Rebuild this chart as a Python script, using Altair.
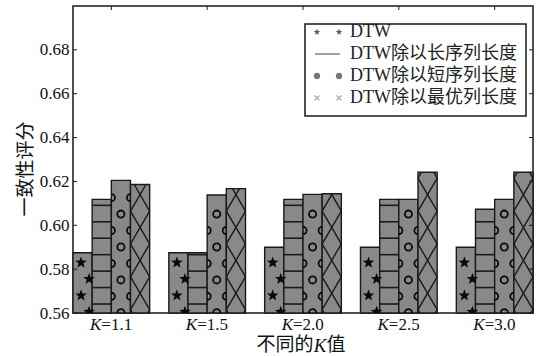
import math
import altair as alt
import pandas as pd

# ---- data -------------------------------------------------------------
k_values = ["1.1", "1.5", "2.0", "2.5", "3.0"]
series = ["DTW", "DTW除以长序列长度", "DTW除以短序列长度", "DTW除以最优列长度"]
dtw = [0.5875, 0.5875, 0.5900, 0.5900, 0.5900]
dtw_long = [0.6118, 0.5875, 0.6118, 0.6118, 0.6073]
dtw_short = [0.6205, 0.6138, 0.6141, 0.6118, 0.6118]
dtw_best = [0.6186, 0.6167, 0.6144, 0.6242, 0.6242]
y_ticks = [0.56, 0.58, 0.60, 0.62, 0.64, 0.66, 0.68]
tick_prefix = "K"
y_title = "一致性评分"
x_title_parts = ["不同的", "K", "值"]

# ---- layout / style ---------------------------------------------------
W, H = 460, 307
Y_MIN, Y_MAX = 0.56, 0.70
SLOTS = 5                      # four bars plus one empty slot per group
X_MAX = SLOTS * len(k_values) - 1
HATCH = 0.0075                 # hatch spacing in value units
FONT = "Liberation Serif, Noto Sans CJK SC"
GREY = "#898989"
INK = "#1a1a1a"

xs = alt.Scale(domain=[0, X_MAX], nice=False, zero=False)
ys = alt.Scale(domain=[Y_MIN, Y_MAX], nice=False, zero=False)
Y_AXIS = alt.Axis(values=y_ticks, format=".2f", labelFont=FONT, labelFontSize=17,
                  labelColor="#111", ticks=False, domain=False, grid=False,
                  title=None, labelPadding=4, labelFlush=False, labelOverlap=False)


def yq(field):
    return alt.Y(field, scale=ys, axis=Y_AXIS)


def xq(field):
    return alt.X(field, scale=xs, axis=None)


def star_path(inner=0.42):
    pts = []
    for i in range(10):
        r = 1.0 if i % 2 == 0 else inner
        a = math.radians(-90 + 36 * i)
        pts.append(f"{r * math.cos(a):.3f},{r * math.sin(a):.3f}")
    return "M" + "L".join(pts) + "Z"


STAR = star_path()
RIGHT_HALF = "M0,-1A1,1,0,0,1,0,1"   # sits on a bar's left edge
LEFT_HALF = "M0,-1A1,1,0,0,0,0,1"    # sits on a bar's right edge
X_GLYPH = "M-1,-1L1,1M1,-1L-1,1"


def clip_segment(xa, ya, xb, yb, lo, hi):
    dy = yb - ya
    t_a, t_b = (lo - ya) / dy, (hi - ya) / dy
    t0 = max(0.0, min(t_a, t_b))
    t1 = min(1.0, max(t_a, t_b))
    if t1 <= t0:
        return None
    return (xa + t0 * (xb - xa), ya + t0 * dy, xa + t1 * (xb - xa), ya + t1 * dy)


# ---- bars and hatch glyphs ---------------------------------------------
values = [dtw, dtw_long, dtw_short, dtw_best]
bars, stars, hlines, circles, halves, diags = [], [], [], [], [], []
for i, k in enumerate(k_values):
    for j, name in enumerate(series):
        x0 = i * SLOTS + j
        x1 = x0 + 1
        v = values[j][i]
        bars.append({"name": name, "k": k, "x0": x0, "x1": x1, "v": v})
        if j == 0:
            n = 0
            while 0.5605 + n * HATCH + 0.0021 <= v:
                stars.append({"x": x0 + (0.84 if n % 2 == 0 else 0.42),
                              "y": 0.5605 + n * HATCH})
                n += 1
        elif j == 1:
            n = 0
            while 0.5641 + n * HATCH < v - 0.0008:
                hlines.append({"x0": x0, "x1": x1, "y": 0.5641 + n * HATCH})
                n += 1
        elif j == 2:
            n = 0
            while True:
                y = 0.5601 + n * HATCH
                if y + 0.0016 > v:
                    break
                if n % 2 == 0:
                    circles.append({"x": x0 + 0.5, "y": y})
                else:
                    halves.append({"x": x0, "y": y, "side": "L"})
                    halves.append({"x": x1, "y": y, "side": "R"})
                n += 1
        else:
            n = 0
            while True:
                yc = 0.5540 + 2 * n * HATCH
                if yc - HATCH >= v:
                    break
                for seg in ((x0, yc - HATCH, x1, yc + HATCH),
                            (x0, yc + HATCH, x1, yc - HATCH)):
                    c = clip_segment(*seg, Y_MIN, v)
                    if c:
                        diags.append({"xa": c[0], "ya": c[1], "xb": c[2], "yb": c[3]})
                n += 1

bars_df = pd.DataFrame(bars)
groups_df = pd.DataFrame({"k": k_values,
                          "xc": [i * SLOTS + 2 for i in range(len(k_values))],
                          "rest": ["=" + k for k in k_values]})
ticks_df = pd.DataFrame({"v": y_ticks})

bar_layer = alt.Chart(bars_df).mark_rect(
    fill=GREY, stroke=INK, strokeWidth=1.4
).encode(x=xq("x0:Q"), x2="x1:Q", y=yq("v:Q"), y2=alt.datum(Y_MIN))

star_layer = alt.Chart(pd.DataFrame(stars)).mark_point(
    shape=STAR, filled=True, color="#0a0a0a", size=150, opacity=1, strokeWidth=0, clip=True
).encode(x=xq("x:Q"), y=yq("y:Q"))

hline_layer = alt.Chart(pd.DataFrame(hlines)).mark_rule(
    color=INK, strokeWidth=1.6
).encode(x=xq("x0:Q"), x2="x1:Q", y=yq("y:Q"))

circle_layer = alt.Chart(pd.DataFrame(circles)).mark_point(
    shape="circle", filled=False, color="#0a0a0a", size=52, strokeWidth=1.8,
    opacity=1, clip=True
).encode(x=xq("x:Q"), y=yq("y:Q"))

half_layer = alt.Chart(pd.DataFrame(halves)).mark_point(
    filled=False, color="#0a0a0a", size=52, strokeWidth=1.8, opacity=1, clip=True
).encode(
    x=xq("x:Q"), y=yq("y:Q"),
    shape=alt.Shape("side:N", scale=alt.Scale(domain=["L", "R"],
                                              range=[RIGHT_HALF, LEFT_HALF]),
                    legend=None),
)

diag_layer = alt.Chart(pd.DataFrame(diags)).mark_rule(
    color=INK, strokeWidth=1.4
).encode(x=xq("xa:Q"), x2="xb:Q", y=yq("ya:Q"), y2="yb:Q")

# inward ticks on the left, right and top of the frame
left_ticks = alt.Chart(ticks_df).mark_rule(color=INK, strokeWidth=1).encode(
    y=yq("v:Q"), x=alt.value(0), x2=alt.value(4))
right_ticks = alt.Chart(ticks_df).mark_rule(color=INK, strokeWidth=1).encode(
    y=yq("v:Q"), x=alt.value(W - 4), x2=alt.value(W))
top_ticks = alt.Chart(groups_df).mark_rule(color=INK, strokeWidth=1).encode(
    x=xq("xc:Q"), y=alt.value(0), y2=alt.value(4))

# category labels "K=1.1" with an italic K
k_italic = alt.Chart(groups_df).mark_text(
    text=tick_prefix, font=FONT, fontStyle="italic", fontSize=17, color="#111",
    align="right", baseline="alphabetic", dx=-10
).encode(x=xq("xc:Q"), y=alt.value(H + 17))
k_rest = alt.Chart(groups_df).mark_text(
    font=FONT, fontSize=17, color="#111", align="left", baseline="alphabetic", dx=-10
).encode(x=xq("xc:Q"), y=alt.value(H + 17), text="rest:N")

# axis titles
title_df = pd.DataFrame({"t": [y_title]})
y_title_layer = alt.Chart(title_df).mark_text(
    font=FONT, fontSize=19, color="#111", angle=270, align="center", baseline="middle"
).encode(x=alt.value(-47), y=alt.value(163), text="t:N")

xt_df = pd.DataFrame({"t": x_title_parts})
x_title_a = alt.Chart(xt_df).transform_filter(alt.datum.t == x_title_parts[0]).mark_text(
    font=FONT, fontSize=19, color="#111", align="right", baseline="middle"
).encode(x=alt.value(240.5), y=alt.value(H + 32), text="t:N")
x_title_b = alt.Chart(xt_df).transform_filter(alt.datum.t == x_title_parts[1]).mark_text(
    font=FONT, fontSize=19, fontStyle="italic", color="#111", align="center",
    baseline="middle"
).encode(x=alt.value(247), y=alt.value(H + 33), text="t:N")
x_title_c = alt.Chart(xt_df).transform_filter(alt.datum.t == x_title_parts[2]).mark_text(
    font=FONT, fontSize=19, color="#111", align="left", baseline="middle"
).encode(x=alt.value(253.5), y=alt.value(H + 32), text="t:N")

main = alt.layer(bar_layer, star_layer, hline_layer, circle_layer, half_layer,
                 diag_layer, left_ticks, right_ticks, top_ticks, k_italic, k_rest,
                 y_title_layer, x_title_a, x_title_b, x_title_c)

# ---- legend box ---------------------------------------------------------
leg_rows = alt.Scale(type="point", domain=series, range=[26, 92], padding=0)
leg_slots = alt.Scale(type="point", domain=[0, 1], range=[244, 266], padding=0)
leg_text_df = pd.DataFrame({"name": series})
leg_sym_df = pd.DataFrame([{"name": s, "slot": t} for s in series for t in (0, 1)])

leg_box = alt.Chart(pd.DataFrame({"a": [0]})).mark_rect(
    fill="white", stroke=INK, strokeWidth=1.5
).encode(x=alt.value(232), x2=alt.value(453), y=alt.value(18), y2=alt.value(110))

leg_text = alt.Chart(leg_text_df).mark_text(
    font=FONT, fontSize=18, color="#222", align="left", baseline="middle"
).encode(x=alt.value(277), y=alt.Y("name:N", scale=leg_rows, axis=None), text="name:N")


def leg_symbols(name, **mark):
    return alt.Chart(leg_sym_df).transform_filter(alt.datum.name == name).mark_point(
        opacity=1, **mark
    ).encode(x=alt.X("slot:O", scale=leg_slots, axis=None),
             y=alt.Y("name:N", scale=leg_rows, axis=None))


leg_star = leg_symbols(series[0], shape=STAR, filled=True, color="#555", size=45, strokeWidth=0)
leg_line = alt.Chart(leg_text_df).transform_filter(alt.datum.name == series[1]).mark_rule(
    color="#888", strokeWidth=1.6
).encode(x=alt.value(242), x2=alt.value(267), y=alt.Y("name:N", scale=leg_rows, axis=None))
leg_circle = leg_symbols(series[2], shape="circle", filled=True, color="#777", size=40, strokeWidth=0)
leg_cross = leg_symbols(series[3], shape=X_GLYPH, filled=False, color="#aaa", size=25, strokeWidth=1.2)

legend = alt.layer(leg_box, leg_text, leg_star, leg_line, leg_circle, leg_cross)

chart = alt.layer(main, legend).resolve_scale(
    x="independent", y="independent"
).properties(
    width=W, height=H,
    autosize=alt.AutoSizeParams(type="none"),
    padding={"left": 73, "top": 6, "right": 10, "bottom": 43},
    background="white",
).configure_view(stroke=INK, strokeWidth=1.5)

chart.save("out.html", embed_options={"renderer": "svg", "actions": False})
